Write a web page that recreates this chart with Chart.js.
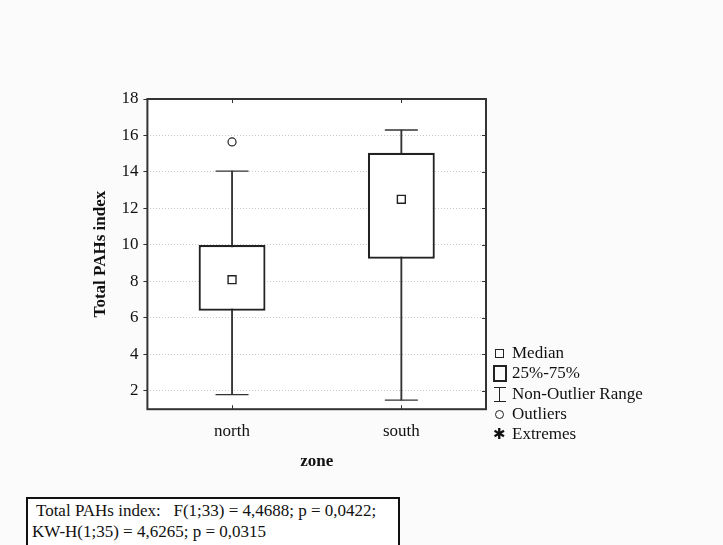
<!DOCTYPE html>
<html>
<head>
<meta charset="utf-8">
<script src="https://cdn.jsdelivr.net/npm/chart.js@4/dist/chart.umd.min.js"></script>
<style>
  html, body { margin: 0; padding: 0; background: #fbfbfb; }
  #wrap { position: relative; width: 723px; height: 545px; overflow: hidden; background: #fbfbfb; }
  #c { position: absolute; left: 0; top: 0; }
  .serif { font-family: "Liberation Serif", "Times New Roman", serif; color: #111; }
  #legend { position: absolute; left: 492px; top: 343px; font-size: 17px; line-height: 20.3px; }
  #legend .row { position: relative; padding-left: 20px; white-space: nowrap; }
  #legend .sym { position: absolute; box-sizing: border-box; }
  #stats { position: absolute; left: 26px; top: 497px; width: 374px; height: 70px; box-sizing: border-box;
           border: 2px solid #111; background: #fff; font-size: 17px; line-height: 21px; padding: 1px 0 0 4px; white-space: pre; }
</style>
</head>
<body>
<div id="wrap">
  <canvas id="c" width="723" height="545"></canvas>
  <div id="legend" class="serif">
    <div class="row"><span class="sym" style="left:3px;top:6px;width:9px;height:9px;border:1.3px solid #222;"></span>Median</div>
    <div class="row"><span class="sym" style="left:1px;top:2px;width:14px;height:17px;border:2px solid #222;"></span>25%-75%</div>
    <div class="row"><span class="sym" style="left:7px;top:3px;width:1.3px;height:15px;background:#222;"></span><span class="sym" style="left:2px;top:3px;width:12px;height:1.3px;background:#222;"></span><span class="sym" style="left:2px;top:17px;width:12px;height:1.3px;background:#222;"></span>Non-Outlier Range</div>
    <div class="row"><span class="sym" style="left:3px;top:6px;width:9px;height:9px;border:1.3px solid #222;border-radius:50%;"></span>Outliers</div>
    <div class="row"><span class="sym" style="left:1px;top:0px;font-size:15px;font-weight:bold;font-family:'DejaVu Sans';">✱</span>Extremes</div>
  </div>
  <div id="stats" class="serif"> Total PAHs index:   F(1;33) = 4,4688; p = 0,0422;
KW-H(1;35) = 4,6265; p = 0,0315</div>
</div>
<script>
// ---- data ----
const categories = ['north', 'south'];
const whiskerLow  = [1.8, 1.5];
const whiskerHigh = [14.05, 16.3];
const q1          = [6.4, 9.25];
const q3          = [10.0, 15.05];
const medians     = [8.1, 12.5];
const outliers    = [15.65, null];
const yTicks      = [2, 4, 6, 8, 10, 12, 14, 16, 18];
const yMin = 1, yMax = 18;

const FONT = 'Liberation Serif';
const INK = '#222';

const framePlugin = {
  id: 'frame',
  beforeDraw(chart) {
    const {ctx, chartArea: a} = chart;
    ctx.save();
    ctx.fillStyle = '#ffffff';
    ctx.fillRect(a.left, a.top, a.right - a.left, a.bottom - a.top);
    ctx.restore();
  },
  afterDraw(chart) {
    const {ctx, chartArea: a, scales} = chart;
    ctx.save();
    ctx.strokeStyle = '#333';
    ctx.lineWidth = 1;
    ctx.beginPath();
    scales.x.ticks.forEach((t, i) => {
      const px = Math.round(scales.x.getPixelForTick(i)) + 0.5;
      ctx.moveTo(px, a.bottom); ctx.lineTo(px, a.bottom - 4);
      ctx.moveTo(px, a.top); ctx.lineTo(px, a.top + 4);
    });
    scales.y.ticks.forEach((t) => {
      const py = Math.round(scales.y.getPixelForValue(t.value)) + 0.5;
      ctx.moveTo(a.right, py); ctx.lineTo(a.right - 4, py);
    });
    ctx.stroke();
    ctx.lineWidth = 2;
    ctx.strokeStyle = '#333';
    ctx.strokeRect(a.left, a.top, a.right - a.left, a.bottom - a.top);
    ctx.restore();
  }
};

new Chart(document.getElementById('c'), {
  type: 'bar',
  data: {
    labels: categories,
    datasets: [
      {
        type: 'bar', label: 'Non-Outlier Range',
        data: categories.map((c, i) => [whiskerLow[i], whiskerHigh[i]]),
        backgroundColor: '#333', borderWidth: 0, barThickness: 1.2, grouped: false, order: 10
      },
      {
        type: 'bar', label: '25%-75%',
        data: categories.map((c, i) => [q1[i], q3[i]]),
        backgroundColor: '#ffffff', borderColor: INK, borderWidth: 2.2, borderSkipped: false,
        categoryPercentage: 1, barPercentage: 0.395, grouped: false, order: 8
      },
      {
        type: 'line', label: 'capHigh', data: whiskerHigh, showLine: false,
        pointStyle: 'line', pointRadius: 16.5, pointBorderWidth: 1.4, borderColor: '#333', order: 6
      },
      {
        type: 'line', label: 'capLow', data: whiskerLow, showLine: false,
        pointStyle: 'line', pointRadius: 16.5, pointBorderWidth: 1.4, borderColor: '#333', order: 6
      },
      {
        type: 'line', label: 'Median', data: medians, showLine: false,
        pointStyle: 'rect', pointRadius: 5.6, pointBorderWidth: 1.4,
        pointBackgroundColor: '#ffffff', pointBorderColor: INK, order: 2
      },
      {
        type: 'line', label: 'Outliers', data: outliers, showLine: false,
        pointStyle: 'circle', pointRadius: 4, pointBorderWidth: 1.2,
        pointBackgroundColor: '#ffffff', pointBorderColor: INK, order: 2
      }
    ]
  },
  options: {
    responsive: false,
    animation: false,
    events: [],
    layout: { padding: { left: 86, top: 99, right: 237, bottom: 69 } },
    plugins: { legend: { display: false }, tooltip: { enabled: false } },
    scales: {
      x: {
        type: 'category',
        offset: true,
        grid: { display: false, drawTicks: false },
        border: { display: false },
        ticks: { color: '#111', padding: 12, font: { family: FONT, size: 17 } },
        title: { display: true, text: 'zone', color: '#111', padding: { top: -2, bottom: 4 },
                 font: { family: FONT, size: 17, weight: 'bold' } }
      },
      y: {
        type: 'linear',
        min: yMin, max: yMax,
        afterBuildTicks(scale) { scale.ticks = yTicks.map(v => ({ value: v })); },
        grid: { color: '#c8c8c8', lineWidth: 1, drawTicks: true, tickLength: 4, tickColor: '#333', tickWidth: 1 },
        border: { display: false, dash: [1, 2] },
        ticks: { color: '#111', padding: 5, font: { family: FONT, size: 17 } },
        title: { display: true, text: 'Total PAHs index', color: '#111', padding: { top: 4, bottom: 6 },
                 font: { family: FONT, size: 17, weight: 'bold' } }
      }
    }
  },
  plugins: [framePlugin]
});
</script>
</body>
</html>
